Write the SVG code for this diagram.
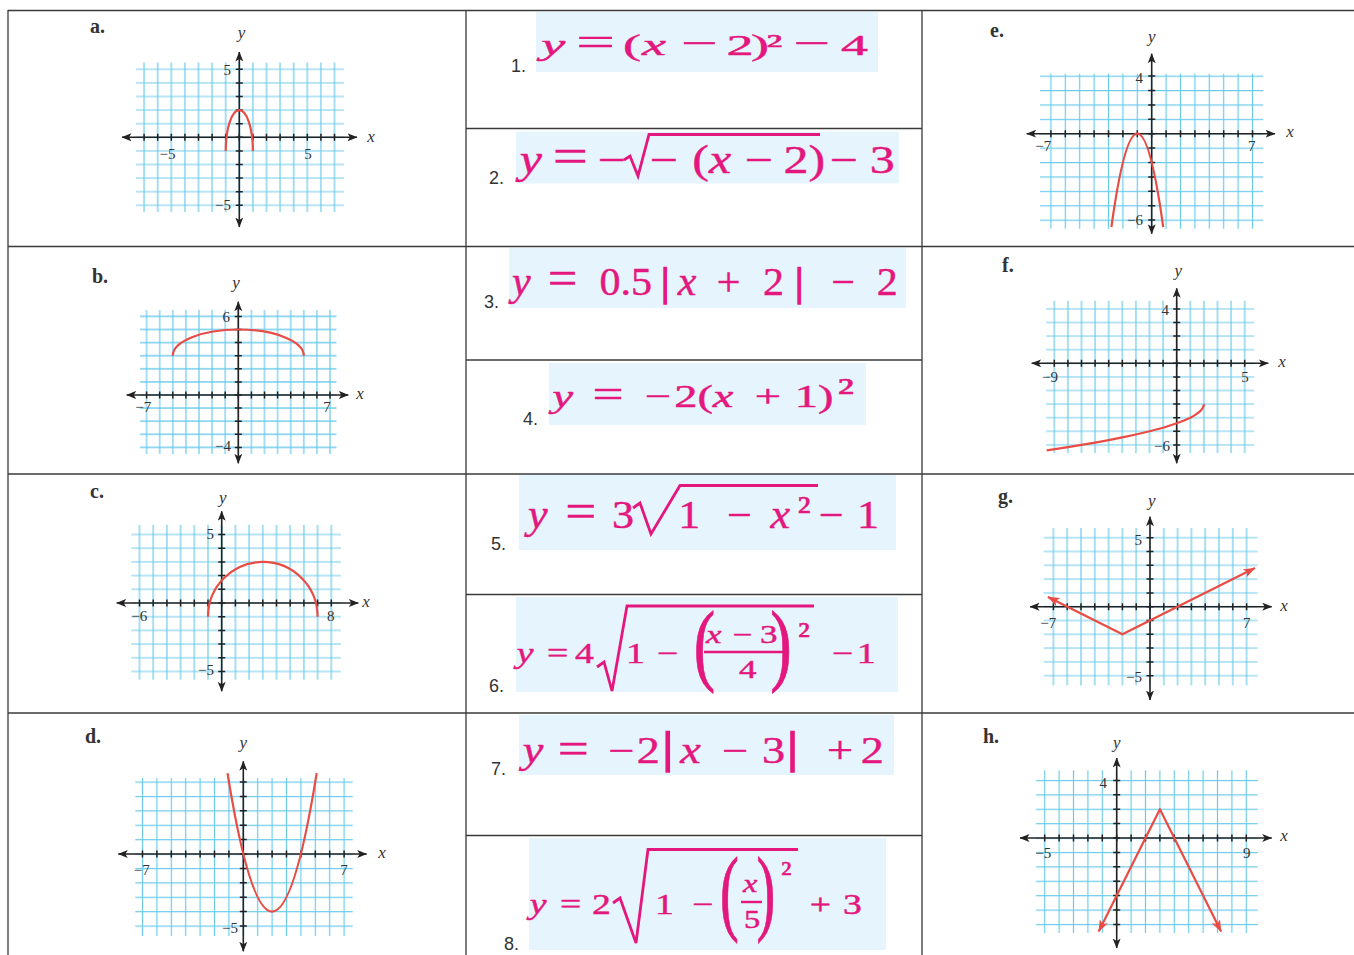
<svg xmlns="http://www.w3.org/2000/svg" width="1354" height="955" viewBox="0 0 1354 955">
<style>
.tbl{stroke:#3a3a3a;stroke-width:1.3;fill:none}
.box{fill:#e6f4fd}
.num{font-family:"Liberation Sans",Arial,sans-serif;font-size:18px;fill:#333}
.let{font-family:"Liberation Serif",serif;font-weight:bold;font-size:20px;fill:#333}
.eq{font-family:"Liberation Serif",serif;fill:#e3177e;stroke:#e3177e;stroke-width:0.45;word-spacing:-0.25em}
.it{font-style:italic}
.bar{stroke-width:1.5}
.rad{fill:none;stroke:#e3177e;stroke-width:2.8;stroke-linejoin:miter}
.frac{stroke:#e3177e;stroke-width:2.4}
.grid{stroke:#6ccaec;stroke-width:1.2;fill:none}
.axis{stroke:#222;stroke-width:1.6;marker-start:url(#ax);marker-end:url(#ax)}
.tick{stroke:#222;stroke-width:7}
.crv{fill:none;stroke:#e84c44;stroke-width:2.2;stroke-linejoin:round}
.arr{marker-start:url(#ra);marker-end:url(#ra)}
.lbl{font-family:"Liberation Serif",serif;font-size:15px;fill:#333}
.var{font-family:"Liberation Serif",serif;font-style:italic;font-size:17px;fill:#333;text-anchor:middle}
</style>
<defs>
<marker id="ax" viewBox="0 0 10 8" refX="9.5" refY="4" markerWidth="10" markerHeight="8" markerUnits="userSpaceOnUse" orient="auto-start-reverse"><path d="M0,0 L10,4 L0,8 L2.5,4 z" fill="#222"/></marker>
<marker id="ra" viewBox="0 0 12 9" refX="11.5" refY="4.5" markerWidth="12" markerHeight="9" markerUnits="userSpaceOnUse" orient="auto-start-reverse"><path d="M0,0 L12,4.5 L0,9 L3,4.5 z" fill="#e84c44"/></marker>
<pattern id="pa" patternUnits="userSpaceOnUse" x="232.5" y="130.5" width="13.6" height="13.6"><path class="grid" d="M6.8 0V13.6M0 6.8H13.6"/></pattern>
<pattern id="pb" patternUnits="userSpaceOnUse" x="231.75" y="388.45" width="13.1" height="13.1"><path class="grid" d="M6.55 0V13.1M0 6.55H13.1"/></pattern>
<pattern id="pc" patternUnits="userSpaceOnUse" x="214.85" y="596.15" width="13.7" height="13.7"><path class="grid" d="M6.85 0V13.7M0 6.85H13.7"/></pattern>
<pattern id="pd" patternUnits="userSpaceOnUse" x="236.1" y="846.8" width="14.4" height="14.4"><path class="grid" d="M7.2 0V14.4M0 7.2H14.4"/></pattern>
<pattern id="pe" patternUnits="userSpaceOnUse" x="1144.5" y="126.5" width="14.4" height="14.4"><path class="grid" d="M7.2 0V14.4M0 7.2H14.4"/></pattern>
<pattern id="pf" patternUnits="userSpaceOnUse" x="1169.9" y="356.5" width="13.6" height="13.6"><path class="grid" d="M6.8 0V13.6M0 6.8H13.6"/></pattern>
<pattern id="pg" patternUnits="userSpaceOnUse" x="1143.1" y="599.8" width="13.8" height="13.8"><path class="grid" d="M6.9 0V13.8M0 6.9H13.8"/></pattern>
<pattern id="ph" patternUnits="userSpaceOnUse" x="1109.5" y="830.8" width="14.4" height="14.4"><path class="grid" d="M7.2 0V14.4M0 7.2H14.4"/></pattern>
</defs>
<rect width="1354" height="955" fill="#fff"/>

<g id="table">
<line class="tbl" x1="8" y1="10.5" x2="1354" y2="10.5"/>
<line class="tbl" x1="8" y1="246.5" x2="1354" y2="246.5"/>
<line class="tbl" x1="8" y1="474" x2="1354" y2="474"/>
<line class="tbl" x1="8" y1="713" x2="1354" y2="713"/>
<line class="tbl" x1="466" y1="128.5" x2="922" y2="128.5"/>
<line class="tbl" x1="466" y1="360" x2="922" y2="360"/>
<line class="tbl" x1="466" y1="594.5" x2="922" y2="594.5"/>
<line class="tbl" x1="466" y1="835.5" x2="922" y2="835.5"/>
<line class="tbl" x1="8" y1="10" x2="8" y2="955"/>
<line class="tbl" x1="466" y1="10" x2="466" y2="955"/>
<line class="tbl" x1="922" y1="10" x2="922" y2="955"/>
</g>

<g id="graph-a">
<text class="let" x="90" y="33">a.</text>
<rect x="135.9" y="62.5" width="208.1" height="149.6" fill="url(#pa)"/>
<line class="axis" x1="122" y1="137.3" x2="357" y2="137.3"/>
<line class="axis" x1="239.3" y1="227" x2="239.3" y2="52"/>
<line class="tick" x1="143.35" y1="137.3" x2="335.25" y2="137.3" stroke-dasharray="1.5 12.1"/>
<line class="tick" x1="239.3" y1="68.55" x2="239.3" y2="206.05" stroke-dasharray="1.5 12.1"/>
<path class="crv" d="M225.7 150.9 A13.6 40.8 0 0 1 252.9 150.9"/>
<text class="lbl" x="167.5" y="159" text-anchor="middle">−5</text>
<text class="lbl" x="308" y="159" text-anchor="middle">5</text>
<text class="lbl" x="231" y="75" text-anchor="end">5</text>
<text class="lbl" x="231" y="210" text-anchor="end">−5</text>
<text class="var" x="241.5" y="38">y</text>
<text class="var" x="371" y="142">x</text>
</g>

<g id="graph-b">
<text class="let" x="92" y="283">b.</text>
<rect x="140.1" y="309.9" width="196.4" height="144.1" fill="url(#pb)"/>
<line class="axis" x1="126.7" y1="395" x2="348.3" y2="395"/>
<line class="axis" x1="238.3" y1="463.3" x2="238.3" y2="301.7"/>
<line class="tick" x1="145.85" y1="395" x2="330.75" y2="395" stroke-dasharray="1.5 11.6"/>
<line class="tick" x1="238.3" y1="315.65" x2="238.3" y2="448.15" stroke-dasharray="1.5 11.6"/>
<path class="crv" d="M172.8 355.7 A65.5 26.2 0 0 1 303.8 355.7"/>
<text class="lbl" x="143.3" y="412" text-anchor="middle">−7</text>
<text class="lbl" x="327" y="412" text-anchor="middle">7</text>
<text class="lbl" x="230" y="322" text-anchor="end">6</text>
<text class="lbl" x="231" y="451" text-anchor="end">−4</text>
<text class="var" x="236" y="288">y</text>
<text class="var" x="360" y="399">x</text>
</g>

<g id="graph-c">
<text class="let" x="90" y="498">c.</text>
<rect x="131.3" y="524.9" width="209.6" height="154.8" fill="url(#pc)"/>
<line class="axis" x1="116.7" y1="603" x2="358.3" y2="603"/>
<line class="axis" x1="221.7" y1="691.3" x2="221.7" y2="511.3"/>
<line class="tick" x1="138.75" y1="603" x2="332.05" y2="603" stroke-dasharray="1.5 12.2"/>
<line class="tick" x1="221.7" y1="533.75" x2="221.7" y2="672.25" stroke-dasharray="1.5 12.2"/>
<path class="crv" d="M208 616.7 A54.8 54.8 0 0 1 317.6 616.7"/>
<text class="lbl" x="139.3" y="621" text-anchor="middle">−6</text>
<text class="lbl" x="330.7" y="621" text-anchor="middle">8</text>
<text class="lbl" x="214" y="539" text-anchor="end">5</text>
<text class="lbl" x="214" y="675" text-anchor="end">−5</text>
<text class="var" x="222.7" y="503">y</text>
<text class="var" x="366" y="607">x</text>
</g>

<g id="graph-d">
<text class="let" x="85" y="743">d.</text>
<rect x="135.3" y="778" width="217.4" height="158" fill="url(#pd)"/>
<line class="axis" x1="118.3" y1="854" x2="366.7" y2="854"/>
<line class="axis" x1="243.3" y1="951.3" x2="243.3" y2="761.3"/>
<line class="tick" x1="141.75" y1="854" x2="344.85" y2="854" stroke-dasharray="1.5 12.9"/>
<line class="tick" x1="243.3" y1="781.25" x2="243.3" y2="926.75" stroke-dasharray="1.5 12.9"/>
<path class="crv" d="M227.5 773.2 Q272.1 1050 316.7 773.2"/>
<text class="lbl" x="141.7" y="875" text-anchor="middle">−7</text>
<text class="lbl" x="344" y="875" text-anchor="middle">7</text>
<text class="lbl" x="238" y="933" text-anchor="end">−5</text>
<text class="var" x="243.3" y="748">y</text>
<text class="var" x="382" y="858">x</text>
</g>

<g id="graph-e">
<text class="let" x="990" y="37">e.</text>
<rect x="1040.1" y="73.7" width="223.2" height="155" fill="url(#pe)"/>
<line class="axis" x1="1026.7" y1="133.7" x2="1275" y2="133.7"/>
<line class="axis" x1="1151.7" y1="233.7" x2="1151.7" y2="53.7"/>
<line class="tick" x1="1050.15" y1="133.7" x2="1253.25" y2="133.7" stroke-dasharray="1.5 12.9"/>
<line class="tick" x1="1151.7" y1="75.35" x2="1151.7" y2="220.85" stroke-dasharray="1.5 12.9"/>
<path class="crv" d="M1111.4 227 Q1137.3 40.4 1163.2 227"/>
<text class="lbl" x="1043.3" y="151" text-anchor="middle">−7</text>
<text class="lbl" x="1251.7" y="151" text-anchor="middle">7</text>
<text class="lbl" x="1143" y="83" text-anchor="end">4</text>
<text class="lbl" x="1143" y="225" text-anchor="end">−6</text>
<text class="var" x="1151.7" y="42">y</text>
<text class="var" x="1290" y="137">x</text>
</g>

<g id="graph-f">
<text class="let" x="1002" y="272">f.</text>
<rect x="1046.1" y="300.7" width="208.1" height="152.4" fill="url(#pf)"/>
<line class="axis" x1="1031.7" y1="363.3" x2="1268.3" y2="363.3"/>
<line class="axis" x1="1176.7" y1="463.3" x2="1176.7" y2="288.3"/>
<line class="tick" x1="1053.55" y1="363.3" x2="1245.45" y2="363.3" stroke-dasharray="1.5 12.1"/>
<line class="tick" x1="1176.7" y1="308.15" x2="1176.7" y2="445.65" stroke-dasharray="1.5 12.1"/>
<path class="crv" d="M1046.7 450.3 L1067.9 447.1 L1081.5 444.9 L1095.1 442.6 L1108.7 440.1 L1122.3 437.4 L1135.9 434.5 L1149.5 431.3 L1163.1 427.7 L1176.7 423.3 L1183.5 420.8 L1190.3 417.7 L1193.7 415.9 L1197.1 413.7 L1200.5 410.9 L1202.5 408.4 L1203.6 406 L1203.9 404.1"/>
<text class="lbl" x="1050" y="382" text-anchor="middle">−9</text>
<text class="lbl" x="1245" y="382" text-anchor="middle">5</text>
<text class="lbl" x="1169" y="315" text-anchor="end">4</text>
<text class="lbl" x="1170" y="451" text-anchor="end">−6</text>
<text class="var" x="1178.3" y="276">y</text>
<text class="var" x="1282" y="367">x</text>
</g>

<g id="graph-g">
<text class="let" x="998" y="503">g.</text>
<rect x="1043.7" y="528" width="213.9" height="157.4" fill="url(#pg)"/>
<line class="axis" x1="1030" y1="606.7" x2="1271.7" y2="606.7"/>
<line class="axis" x1="1150" y1="700" x2="1150" y2="516.7"/>
<line class="tick" x1="1052.65" y1="606.7" x2="1247.35" y2="606.7" stroke-dasharray="1.5 12.3"/>
<line class="tick" x1="1150" y1="536.95" x2="1150" y2="676.45" stroke-dasharray="1.5 12.3"/>
<polyline class="crv arr" points="1047.9,597 1122.4,634.3 1254.9,568.1"/>
<text class="lbl" x="1048.3" y="628" text-anchor="middle">−7</text>
<text class="lbl" x="1246.7" y="628" text-anchor="middle">7</text>
<text class="lbl" x="1142" y="545" text-anchor="end">5</text>
<text class="lbl" x="1142" y="682" text-anchor="end">−5</text>
<text class="var" x="1151.7" y="506">y</text>
<text class="var" x="1284" y="611">x</text>
</g>

<g id="graph-h">
<text class="let" x="983" y="743">h.</text>
<rect x="1036.1" y="770.3" width="221.7" height="162.7" fill="url(#ph)"/>
<line class="axis" x1="1020" y1="838" x2="1271.7" y2="838"/>
<line class="axis" x1="1116.7" y1="948" x2="1116.7" y2="758"/>
<line class="tick" x1="1043.95" y1="838" x2="1247.05" y2="838" stroke-dasharray="1.5 12.9"/>
<line class="tick" x1="1116.7" y1="779.65" x2="1116.7" y2="925.15" stroke-dasharray="1.5 12.9"/>
<polyline class="crv arr" points="1098.7,931.6 1159.9,809.2 1221.1,931.6"/>
<text class="lbl" x="1043.3" y="858" text-anchor="middle">−5</text>
<text class="lbl" x="1246.7" y="858" text-anchor="middle">9</text>
<text class="lbl" x="1107" y="788" text-anchor="end">4</text>
<text class="var" x="1116.7" y="748">y</text>
<text class="var" x="1284" y="841">x</text>
</g>

<g id="eq-1">
<rect class="box" x="536" y="12" width="342" height="60"/>
<text class="num" x="511" y="72">1.</text>
<text class="eq" font-size="30" transform="matrix(1.8 0 0 1 543 55)"><tspan x="-1" class="it">y </tspan><tspan x="18.5" font-size="38">= </tspan><tspan x="44.5">(</tspan><tspan x="55" class="it">x </tspan><tspan x="76.5" font-size="36">− </tspan><tspan x="102">2</tspan><tspan x="115.5">)</tspan><tspan x="124">² </tspan><tspan x="139" font-size="36">− </tspan><tspan x="165.5">4</tspan></text>
</g>

<g id="eq-2">
<rect class="box" x="516" y="131.5" width="383" height="52"/>
<text class="num" x="489" y="184">2.</text>
<polyline class="rad" points="624,160 630,156 638,176 649,134.5 820,134.5"/>
<text class="eq" font-size="40" transform="matrix(1.25 0 0 1 521 173)"><tspan x="-1" class="it">y </tspan><tspan x="25.5" font-size="50">= </tspan><tspan x="61.5">−</tspan><tspan x="103">−</tspan><tspan x="137">(</tspan><tspan x="150.5" class="it">x </tspan><tspan x="179">− </tspan><tspan x="210">2</tspan><tspan x="230">) </tspan><tspan x="247">− </tspan><tspan x="279">3</tspan></text>
</g>

<g id="eq-3">
<rect class="box" x="509" y="248" width="397" height="60"/>
<text class="num" x="484" y="308">3.</text>
<text class="eq" font-size="40" transform="matrix(1.05 0 0 1 513 295)"><tspan x="-1" class="it">y </tspan><tspan x="33" font-size="50">= </tspan><tspan x="82.5">0.5</tspan><tspan x="141" class="bar">|</tspan><tspan x="157" class="it">x </tspan><tspan x="194">+ </tspan><tspan x="238">2</tspan><tspan x="268.5" class="bar">| </tspan><tspan x="303">− </tspan><tspan x="346.5">2</tspan></text>
</g>

<g id="eq-4">
<rect class="box" x="549" y="363" width="317" height="62"/>
<text class="num" x="523" y="425">4.</text>
<text class="eq" font-size="32" transform="matrix(1.45 0 0 1 554 407)"><tspan x="-1" class="it">y </tspan><tspan x="26.6" font-size="38">= </tspan><tspan x="62.5">−</tspan><tspan x="83">2</tspan><tspan x="99">(</tspan><tspan x="109.5" class="it">x </tspan><tspan x="138.5">+ </tspan><tspan x="166">1</tspan><tspan x="182">)</tspan><tspan x="195.5" y="-3" font-size="38">²</tspan></text>
</g>

<g id="eq-5">
<rect class="box" x="519" y="475" width="377" height="75"/>
<text class="num" x="491" y="550">5.</text>
<polyline class="rad" points="633,508 640,503 651,534 680,485.5 818,485.5"/>
<text class="eq" font-size="40" transform="matrix(1.1 0 0 1 529 528)"><tspan x="-1" class="it">y </tspan><tspan x="33" font-size="50">= </tspan><tspan x="75.5">3</tspan><tspan x="135.6">1 </tspan><tspan x="180">− </tspan><tspan x="219.5" class="it">x</tspan><tspan x="244" y="-5">²</tspan><tspan x="263.5" y="0">− </tspan><tspan x="298.3">1</tspan></text>
</g>

<g id="eq-6">
<rect class="box" x="516" y="597" width="382" height="95"/>
<text class="num" x="489" y="692">6.</text>
<polyline class="rad" points="597,667 604,662 612,691 627,606 814,606"/>
<text class="eq" font-size="29" transform="matrix(1.3 0 0 1 518 663)"><tspan x="-1" class="it">y </tspan><tspan x="22.3">= </tspan><tspan x="43.8">4</tspan><tspan x="83">1 </tspan><tspan x="107">−</tspan><tspan x="241.5">− </tspan><tspan x="260.6">1</tspan></text>
<text class="eq" font-size="46" text-anchor="middle" transform="matrix(1.4 0 0 2 704.5 673.5)">(</text>
<text class="eq" font-size="25" transform="matrix(1.4 0 0 1 706 643)"><tspan x="0" class="it">x </tspan><tspan x="19">− </tspan><tspan x="38.5">3</tspan></text>
<line class="frac" x1="704" y1="652" x2="784" y2="652"/>
<text class="eq" font-size="25" transform="matrix(1.4 0 0 1 739 678)">4</text>
<text class="eq" font-size="46" text-anchor="middle" transform="matrix(1.4 0 0 2 781 673.5)">)</text>
<text class="eq" font-size="36" transform="matrix(1.1 0 0 1 798 647)">²</text>
</g>

<g id="eq-7">
<rect class="box" x="519" y="715" width="375" height="60"/>
<text class="num" x="491" y="775">7.</text>
<text class="eq" font-size="37" transform="matrix(1.25 0 0 1 524 763)"><tspan x="-1" class="it">y </tspan><tspan x="27" font-size="44">= </tspan><tspan x="67.5">−</tspan><tspan x="90.2">2</tspan><tspan x="110.6" font-size="44" class="bar">|</tspan><tspan x="125" class="it">x </tspan><tspan x="158.5">− </tspan><tspan x="190.5">3</tspan><tspan x="210.5" font-size="44" class="bar">| </tspan><tspan x="242.5">+ </tspan><tspan x="269.5">2</tspan></text>
</g>

<g id="eq-8">
<rect class="box" x="529" y="838" width="357" height="112"/>
<text class="num" x="504" y="950">8.</text>
<polyline class="rad" points="613,903 620,898 636,943 648,849.5 798,849.5"/>
<text class="eq" font-size="29" transform="matrix(1.3 0 0 1 531 914)"><tspan x="-1" class="it">y </tspan><tspan x="22.3">= </tspan><tspan x="46.9">2</tspan><tspan x="95.3">1 </tspan><tspan x="124">−</tspan><tspan x="214.5">+ </tspan><tspan x="240">3</tspan></text>
<text class="eq" font-size="47" text-anchor="middle" transform="matrix(1.2 0 0 2.03 729.5 922.8)">(</text>
<text class="eq it" font-size="25" transform="matrix(1.3 0 0 1 743 892)">x</text>
<line class="frac" x1="741" y1="902" x2="762" y2="902"/>
<text class="eq" font-size="25" transform="matrix(1.3 0 0 1 744 928)">5</text>
<text class="eq" font-size="47" text-anchor="middle" transform="matrix(1.2 0 0 2.03 766 922.8)">)</text>
<text class="eq" font-size="32" transform="matrix(1.1 0 0 1 781 884)">²</text>
</g>
</svg>
